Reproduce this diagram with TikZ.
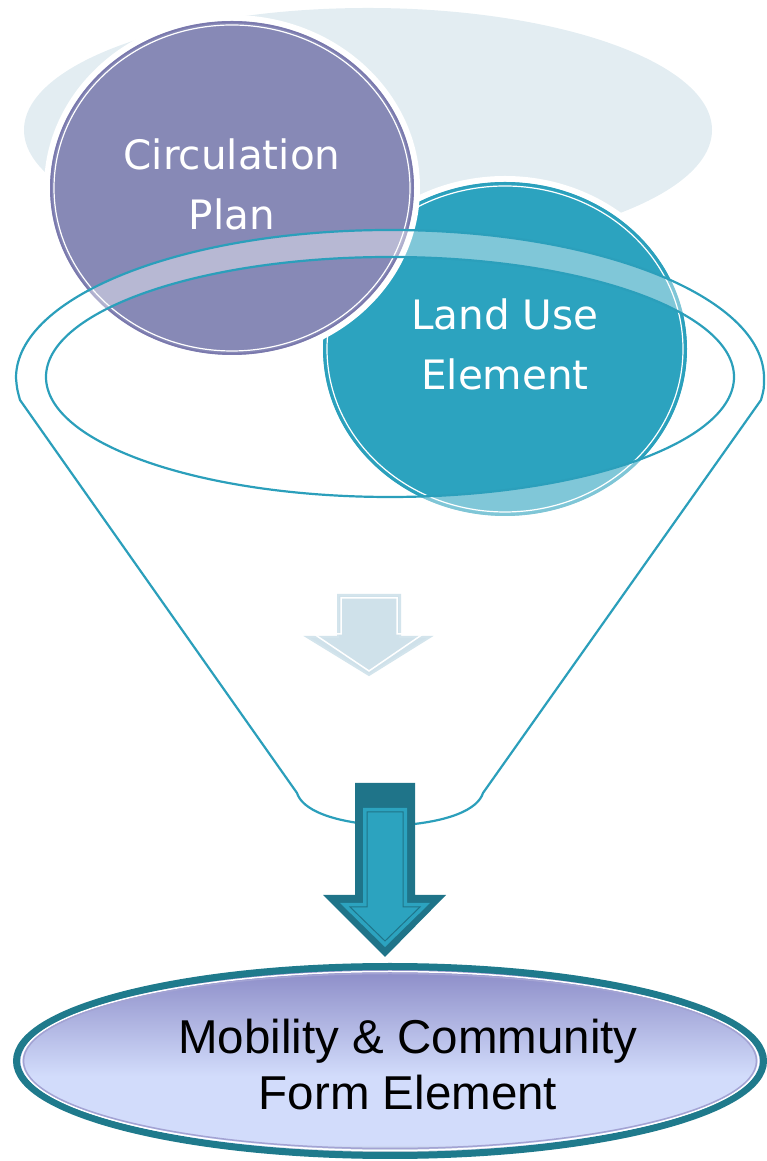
\documentclass[tikz,border=0pt]{standalone}
\usepackage{fontspec}
\newfontfamily\circfont{DejaVu Sans}
\newfontfamily\mobfont{Liberation Sans}
\definecolor{paleback}{HTML}{E3EDF2}
\definecolor{purp}{HTML}{8789B6}
\definecolor{purpline}{HTML}{7A78AD}
\definecolor{teal}{HTML}{2CA3BF}
\definecolor{tealline}{HTML}{2B9FBB}
\definecolor{palearrow}{HTML}{CFE1EA}
\definecolor{palearrowline}{HTML}{D3E4EC}
\definecolor{darkarrow}{HTML}{1F7489}
\definecolor{mobborder}{HTML}{1F7A8C}
\definecolor{mobinner}{HTML}{A3A3D3}
\definecolor{mobtop}{HTML}{8A8AC6}
\definecolor{moblight}{HTML}{D2DCFB}
\definecolor{mobbot}{HTML}{A9B4B4}
\pgfdeclareverticalshading{mobshade}{100bp}{color(0bp)=(mobbot); color(25bp)=(mobbot); color(28bp)=(moblight); color(46bp)=(moblight); color(75bp)=(mobtop); color(100bp)=(mobtop)}
\tikzset{
  circtext/.style={text=white, font=\circfont\fontsize{40.5}{60}\selectfont, align=center, inner sep=0pt, anchor=base},
  mobtext/.style={text=black, font=\mobfont\fontsize{47.5}{57}\selectfont, align=center, inner sep=0pt, anchor=base},
  funnelline/.style={draw=tealline, line width=2.2pt},
}
\begin{document}
\begin{tikzpicture}[x=1pt,y=1pt]
\useasboundingbox (0,0) rectangle (766,1161);
% pale background ellipse
\fill[paleback] (368,1031) ellipse [x radius=344, y radius=122];
% Land use circle
\fill[white] (505,812) ellipse [x radius=188, y radius=173];
\fill[teal] (505,812) ellipse [x radius=182, y radius=167];
\draw[tealline, line width=1.5pt] (505,812) ellipse [x radius=181, y radius=166];
\draw[white, line width=1.2pt] (505,812) ellipse [x radius=178, y radius=163];
% Circulation circle
\fill[white] (232,973) ellipse [x radius=188, y radius=173];
\fill[purp] (232,973) ellipse [x radius=182, y radius=167];
\draw[purpline, line width=1.5pt] (232,973) ellipse [x radius=181, y radius=166];
\draw[white, line width=1.2pt] (232,973) ellipse [x radius=178, y radius=163];
% funnel translucent body
\fill[white, fill opacity=0.4, even odd rule]
  (16,783) arc[start angle=180, end angle=0, x radius=374, y radius=148]
  .. controls (764,772) .. (761,761) -- (483,368)
  .. controls (478,352) and (450,338) .. (390,335)
  .. controls (330,338) and (302,352) .. (297,368)
  -- (20,761) .. controls (17,772) .. (16,783) -- cycle
  (390,784) ellipse [x radius=344, y radius=120];
% funnel outline
\draw[funnelline, line join=round]
  (16,783) arc[start angle=180, end angle=0, x radius=374, y radius=148]
  .. controls (764,772) .. (761,761) -- (483,368)
  .. controls (478,352) and (450,338) .. (390,335)
  .. controls (330,338) and (302,352) .. (297,368)
  -- (20,761) .. controls (17,772) .. (16,783) -- cycle;
\draw[funnelline] (390,784) ellipse [x radius=344, y radius=120];
% texts in circles
\node[circtext] (circ1) at (232,991) {Circulation};
\node[circtext] (circ2) at (232,931) {Plan};
\node[circtext] (land1) at (505,831) {Land Use};
\node[circtext] (land2) at (505,771) {Element};
% pale arrow
\filldraw[fill=palearrow, draw=palearrowline, line width=2pt, line join=miter]
  (338,566) -- (400,566) -- (400,524) -- (430,524) -- (369,486) -- (307,524) -- (338,524) -- cycle;
\draw[white, line width=1.5pt]
  (341,563) -- (397,563) -- (397,527) -- (423,527) -- (369,490) -- (314,527) -- (341,527) -- cycle;
% dark arrow
\fill[darkarrow]
  (355,378) -- (415,378) -- (415,266) -- (446,266) -- (385,204) -- (323,266) -- (355,266) -- cycle;
\fill[teal]
  (363,353) -- (407,353) -- (407,258) -- (430,258) -- (385,214) -- (340,258) -- (363,258) -- cycle;
\draw[darkarrow, line width=1pt]
  (367,349) -- (403,349) -- (403,254) -- (420,254) -- (385,220) -- (350,254) -- (367,254) -- cycle;
% bottom ellipse
\shade[shading=mobshade] (390,100) ellipse [x radius=374, y radius=95];
\draw[mobborder, line width=7pt] (390,100) ellipse [x radius=373.5, y radius=94.5];
\draw[white, line width=1.5pt] (390,100) ellipse [x radius=368.5, y radius=89.5];
\draw[mobinner, line width=1.5pt] (390,100) ellipse [x radius=366.5, y radius=87.5];
\node[mobtext] (mob1) at (408,107.5) {Mobility \& Community};
\node[mobtext] (mob2) at (408,51) {Form Element};
\end{tikzpicture}
\end{document}
